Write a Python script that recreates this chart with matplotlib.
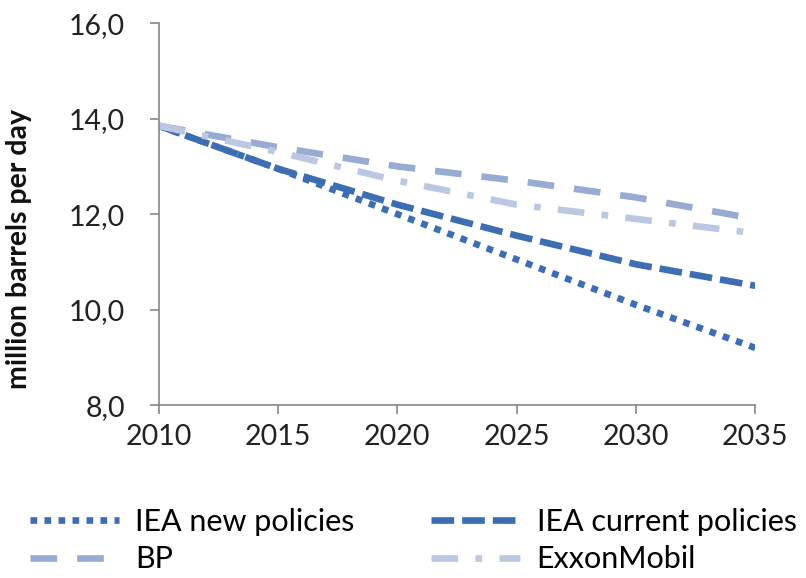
import matplotlib
matplotlib.use("Agg")
import matplotlib.pyplot as plt
from matplotlib.ticker import FuncFormatter

plt.rcParams['font.family'] = ['Lato', 'DejaVu Sans']

years = [2010, 2015, 2020, 2025, 2030, 2035]
iea_new = [13.85, 12.95, 12.0, 11.05, 10.1, 9.2]
iea_current = [13.85, 12.95, 12.2, 11.55, 10.95, 10.5]
bp = [13.85, 13.4, 13.0, 12.7, 12.35, 11.9]
exxon = [13.85, 13.3, 12.7, 12.2, 11.9, 11.6]

series_names = ['IEA new policies', 'IEA current policies', 'BP', 'ExxonMobil']

fig = plt.figure(figsize=(8.06, 5.78), dpi=100)
ax = fig.add_axes([0.197, 0.299, 0.740, 0.661])

lw = 4.8
l_new, = ax.plot(years, iea_new, color='#3d6eb4', lw=lw, dashes=(1, 1.1),
                 dash_capstyle='butt', label=series_names[0])
l_cur, = ax.plot(years, iea_current, color='#3d6eb4', lw=lw, dashes=(3.4, 1.2),
                 dash_capstyle='butt', label=series_names[1])
l_bp, = ax.plot(years, bp, color='#98abd3', lw=lw, dashes=(4.0, 3.0),
                dash_capstyle='butt', label=series_names[2])
l_ex, = ax.plot(years, exxon, color='#bcc8e2', lw=lw, dashes=(4.0, 2.6, 1, 2.6),
                dash_capstyle='butt', label=series_names[3])

ax.set_xlim(2010, 2035)
ax.set_ylim(8, 16)
ax.set_xticks(years)
ax.set_yticks([8, 10, 12, 14, 16])
ax.yaxis.set_major_formatter(FuncFormatter(lambda v, p: f"{v:.1f}".replace('.', ',')))

for s in ['top', 'right']:
    ax.spines[s].set_visible(False)
for s in ['left', 'bottom']:
    ax.spines[s].set_color('#868686')
    ax.spines[s].set_linewidth(1.2)
ax.tick_params(axis='both', colors='#868686', labelcolor='#222222',
               labelsize=20.5, length=6.5, width=1.2)
ax.tick_params(axis='y', pad=18)
ax.tick_params(axis='x', pad=7)

ax.set_ylabel('million barrels per day', fontsize=20.5, fontweight='bold',
              color='#111111')
ax.yaxis.set_label_coords(-0.212, 0.41)

# row-wise order: new, current / BP, Exxon
fig.legend([l_new, l_bp, l_cur, l_ex],
           [series_names[0], series_names[2], series_names[1], series_names[3]],
           loc='upper left', bbox_to_anchor=(0.022, 0.142), ncol=2,
           frameon=False, fontsize=22, handlelength=2.9, handletextpad=0.55,
           columnspacing=2.5, labelspacing=0.3, borderaxespad=0)

fig.savefig('out.png', dpi=100)
